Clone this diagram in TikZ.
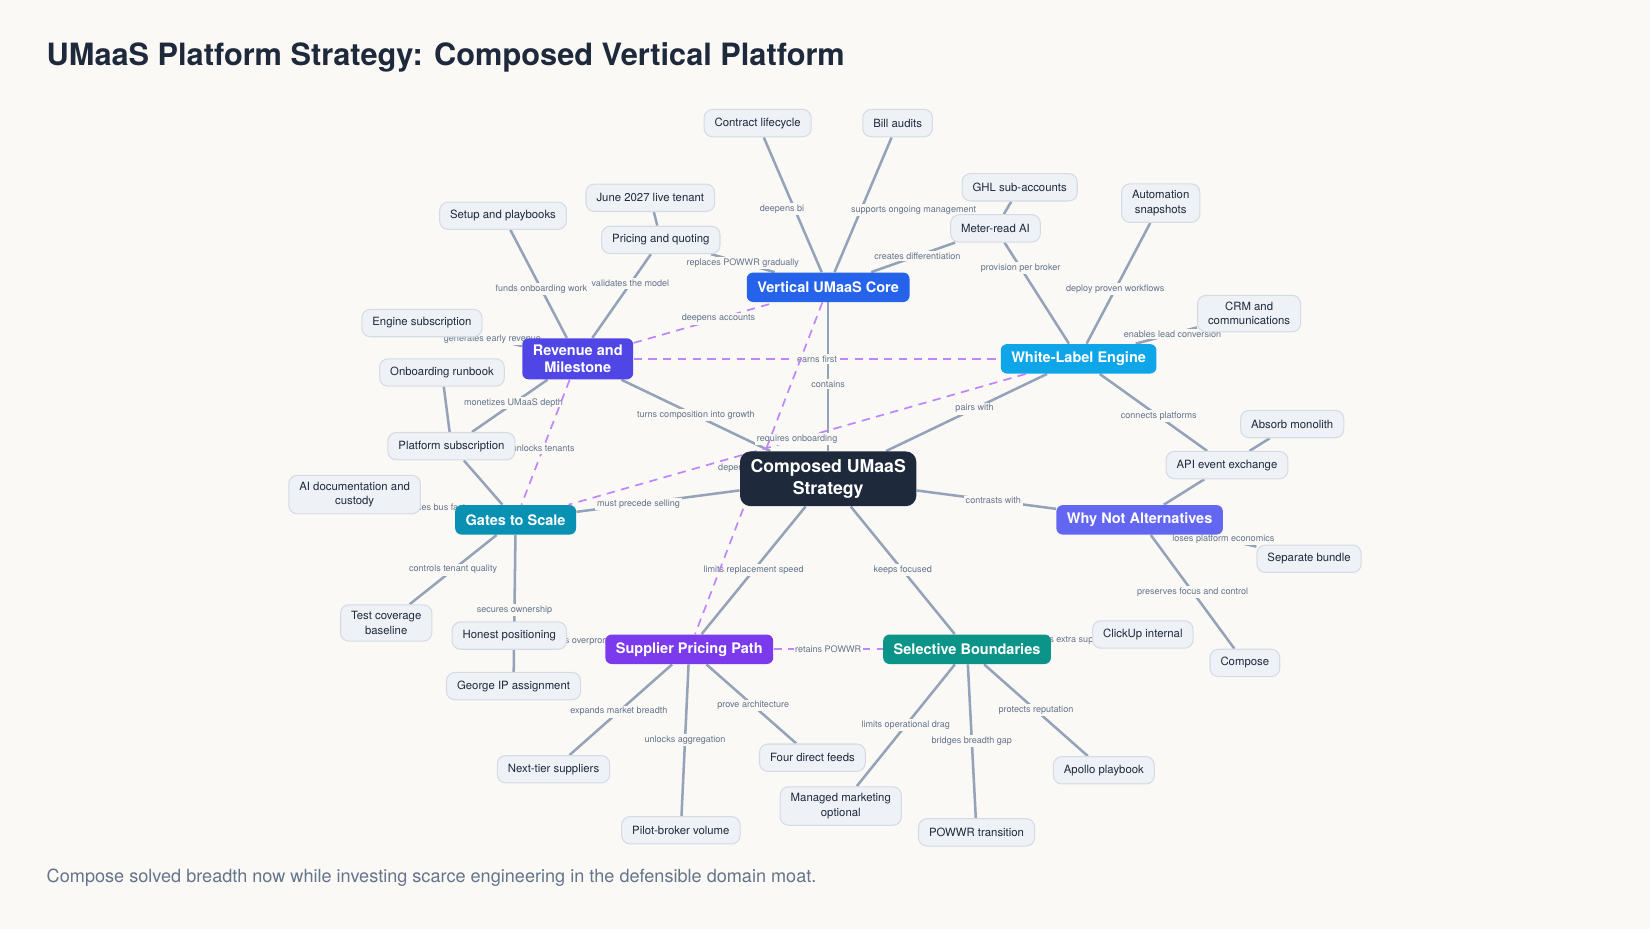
\documentclass[tikz,border=0pt]{standalone}
\usepackage{fontspec}
\setmainfont{TeX Gyre Heros}
\usetikzlibrary{positioning}
\definecolor{bgc}{HTML}{FAF9F6}
\definecolor{ink}{HTML}{1E293B}
\definecolor{linkc}{HTML}{94A3B8}
\definecolor{lblc}{HTML}{64748B}
\definecolor{leaff}{HTML}{EEF1F6}
\definecolor{leafd}{HTML}{D5DBE5}
\definecolor{dashc}{HTML}{C084FC}
\definecolor{corec}{HTML}{2563EB}
\definecolor{revc}{HTML}{4F46E5}
\definecolor{wlec}{HTML}{0EA5E9}
\definecolor{gatec}{HTML}{0891B2}
\definecolor{whyc}{HTML}{6366F1}
\definecolor{supc}{HTML}{7C3AED}
\definecolor{selc}{HTML}{0D9488}
\pgfdeclarelayer{paper}
\pgfdeclarelayer{edges}
\pgfsetlayers{paper,edges,main}
\begin{document}
\begin{tikzpicture}[x=0.5pt,y=-0.5pt,
	leaf/.style={
		shape=rectangle, rounded corners=4pt,
		draw=leafd, fill=leaff, line width=0.5pt,
		text=ink, font=\fontsize{5.4}{6.8}\selectfont,
		align=center, inner xsep=5pt, inner ysep=3.2pt,
		minimum height=13pt
	},
	hub/.style={
		shape=rectangle, rounded corners=3pt,
		fill=#1, text=white, align=center,
		font=\fontsize{6.9}{8.4}\selectfont\bfseries,
		inner xsep=5pt, inner ysep=3pt, minimum height=14pt
	},
	link/.style={draw=linkc, line width=1.2pt},
	cross/.style={draw=dashc, line width=0.8pt, dash pattern=on 4pt off 3pt},
	lbl/.style={font=\fontsize{4.3}{5}\selectfont, text=lblc,
		fill=bgc, inner sep=0.8pt}
]
\begin{pgfonlayer}{paper}
\fill[bgc] (0,0) rectangle (1568,883);
\end{pgfonlayer}
\useasboundingbox (0,0) rectangle (1568,883);

\node[anchor=west, inner sep=0pt, font=\fontsize{14.6}{16}\selectfont\bfseries, text=ink] (title) at (44,55)
	{UMaaS Platform Strategy: Composed Vertical Platform};
\node[anchor=west, inner sep=0pt, font=\fontsize{8.6}{10}\selectfont, text=lblc] (foot) at (44,834)
	{Compose solved breadth now while investing scarce engineering in the defensible domain moat.};

%hubs
\node[hub=ink, font=\fontsize{8.4}{10.4}\selectfont\bfseries, rounded corners=5pt,
	minimum width=81pt, minimum height=26pt] (comp) at (787,455) {Composed UMaaS\\Strategy};
\node[hub=corec](core) at (787,273) {Vertical UMaaS Core};
\node[hub=revc](rev) at (549,341) {Revenue and\\Milestone};
\node[hub=wlec](wle) at (1025,341) {White-Label Engine};
\node[hub=gatec](gates) at (490,494) {Gates to Scale};
\node[hub=whyc](why) at (1083,494) {Why Not Alternatives};
\node[hub=supc](sup) at (655,617) {Supplier Pricing Path};
\node[hub=selc](sel) at (919,617) {Selective Boundaries};

%leaves
\node[leaf](contract) at (720,117) {Contract lifecycle};
\node[leaf](bills) at (853,117) {Bill audits};
\node[leaf](june) at (618,188) {June 2027 live tenant};
\node[leaf](setup) at (478,205) {Setup and playbooks};
\node[leaf](pricing) at (628,228) {Pricing and quoting};
\node[leaf](engsub) at (401,307) {Engine subscription};
\node[leaf](runbook) at (420,354) {Onboarding runbook};
\node[leaf](platsub) at (429,424) {Platform subscription};
\node[leaf](aidoc) at (337,470) {AI documentation and\\custody};
\node[leaf](tests) at (367,592) {Test coverage\\baseline};
\node[leaf](honest) at (484,604) {Honest positioning};
\node[leaf](george) at (488,652) {George IP assignment};
\node[leaf](ghl) at (969,178) {GHL sub-accounts};
\node[leaf](meter) at (946,217) {Meter-read AI};
\node[leaf](autom) at (1103,193) {Automation\\snapshots};
\node[leaf](crm) at (1187,298) {CRM and\\communications};
\node[leaf](absorb) at (1228,403) {Absorb monolith};
\node[leaf](api) at (1166,442) {API event exchange};
\node[leaf](bundle) at (1244,531) {Separate bundle};
\node[leaf](clickup) at (1086,603) {ClickUp internal};
\node[leaf](compose) at (1183,630) {Compose};
\node[leaf](nexttier) at (526,731) {Next-tier suppliers};
\node[leaf](pilot) at (647,789) {Pilot-broker volume};
\node[leaf](feeds) at (772,720) {Four direct feeds};
\node[leaf](managed) at (799,766) {Managed marketing\\optional};
\node[leaf](powwr) at (928,791) {POWWR transition};
\node[leaf](apollo) at (1049,732) {Apollo playbook};

\begin{pgfonlayer}{edges}
%solid links
\draw[link] (core) -- node[lbl, pos=0.47, anchor=east, xshift=6pt]{deepens bi} (contract);
\draw[link] (core) -- node[lbl, pos=0.46, anchor=west, xshift=-6pt]{supports ongoing management} (bills);
\draw[link] (core) -- node[lbl, pos=0.5]{replaces POWWR gradually} (pricing);
\draw[link] (core) -- node[lbl, pos=0.55]{creates differentiation} (meter);
\draw[link] (core) -- node[lbl, pos=0.55]{contains} (comp);
\draw[link] (rev) -- node[lbl, pos=0.45]{funds onboarding work} (setup);
\draw[link] (rev) -- node[lbl, pos=0.65]{validates the model} (pricing);
\draw[link] (pricing) -- (june);
\draw[link] (rev) -- node[lbl, pos=0.75]{generates early revenue} (engsub);
\draw[link] (rev) -- node[lbl, pos=0.45]{monetizes UMaaS depth} (platsub);
\draw[link] (runbook) -- (platsub);
\draw[link] (rev) -- node[lbl, pos=0.5]{turns composition into growth} (comp);
\draw[link] (gates) -- (platsub);
\draw[link] (gates) -- node[lbl, pos=0.55]{reduces bus factor} (aidoc);
\draw[link] (gates) -- node[lbl]{controls tenant quality} (tests);
\draw[link] (gates) -- node[lbl, pos=0.55]{secures ownership} (george);
\draw[link] (honest) -- node[lbl]{avoids overpromising} (sup);
\draw[link] (gates) -- node[lbl, pos=0.38]{must precede selling} (comp);
\draw[link] (wle) -- node[lbl, pos=0.45]{pairs with} (comp);
\draw[link] (wle) -- node[lbl, pos=0.75]{provision per broker} (meter);
\draw[link] (meter) -- (ghl);
\draw[link] (wle) -- node[lbl, pos=0.45]{deploy proven workflows} (autom);
\draw[link] (wle) -- node[lbl, pos=0.6]{enables lead conversion} (crm);
\draw[link] (wle) -- node[lbl, pos=0.55]{connects platforms} (api);
\draw[link] (api) -- (absorb);
\draw[link] (api) -- (why);
\draw[link] (comp) -- node[lbl, pos=0.55]{contrasts with} (why);
\draw[link] (why) -- node[lbl, pos=0.35]{loses platform economics} (bundle);
\draw[link] (why) -- node[lbl, pos=0.5]{preserves focus and control} (compose);
\draw[link] (sel) -- node[lbl, pos=0.5]{adds extra support} (clickup);
\draw[link] (comp) -- node[lbl, pos=0.5]{limits replacement speed} (sup);
\draw[link] (comp) -- node[lbl, pos=0.5]{keeps focused} (sel);
\draw[link] (sup) -- node[lbl, pos=0.52]{expands market breadth} (nexttier);
\draw[link] (sup) -- node[lbl, pos=0.5]{unlocks aggregation} (pilot);
\draw[link] (sup) -- node[lbl, pos=0.52]{prove architecture} (feeds);
\draw[link] (sel) -- node[lbl, pos=0.5]{limits operational drag} (managed);
\draw[link] (sel) -- node[lbl, pos=0.5]{bridges breadth gap} (powwr);
\draw[link] (sel) -- node[lbl, pos=0.5]{protects reputation} (apollo);
%cross links
\draw[cross] (rev) -- node[lbl, pos=0.6]{deepens accounts} (core);
\draw[cross] (rev) -- node[lbl, pos=0.5]{earns first} (wle);
\draw[cross] (rev) -- node[lbl, pos=0.55]{unlocks tenants} (gates);
\draw[cross] (wle) -- node[lbl, pos=0.5]{requires onboarding} (gates);
\draw[cross] (core) -- node[lbl, pos=0.5, xshift=-8pt]{depends on} (sup);
\draw[cross] (sup) -- node[lbl]{retains POWWR} (sel);
\end{pgfonlayer}
\end{tikzpicture}
\end{document}
